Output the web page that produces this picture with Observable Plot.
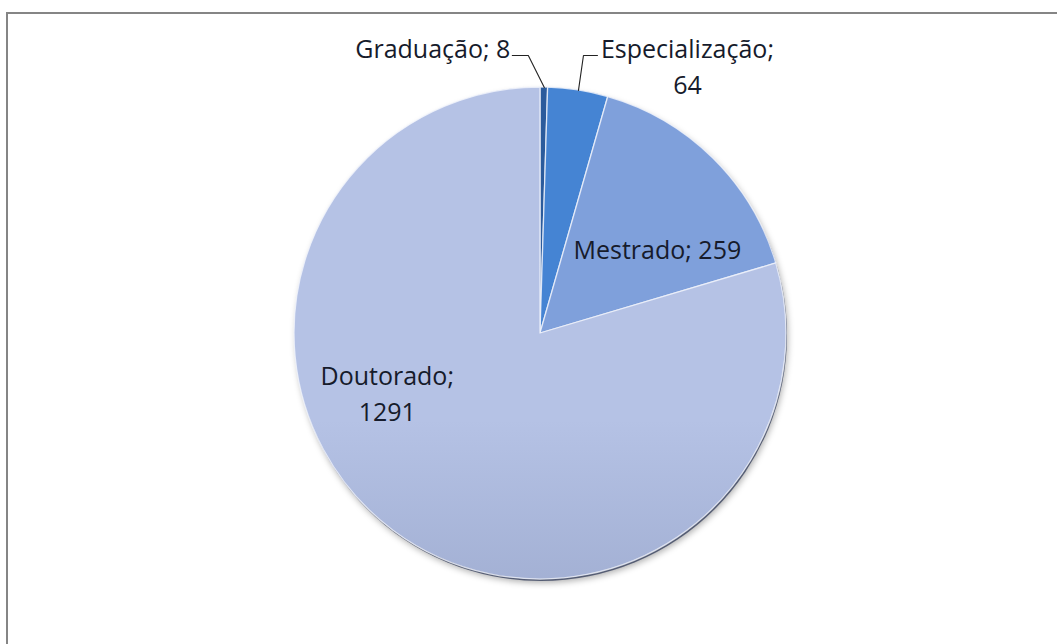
<!DOCTYPE html>
<html><head><meta charset="utf-8">
<script src="https://cdn.jsdelivr.net/npm/d3@7"></script>
<script src="https://cdn.jsdelivr.net/npm/@observablehq/plot@0.6"></script>
<style>
body{margin:0;background:#fff;overflow:hidden}
#chart{position:absolute;left:0;top:0}
#frame{position:absolute;left:6px;top:12px;width:3000px;height:3000px;border-left:2.5px solid #858585;border-top:2.5px solid #858585;pointer-events:none}
</style></head><body>
<div id="chart"></div><div id="frame"></div>
<script>
// ---- data ----
const categories = ["Graduação", "Especialização", "Mestrado", "Doutorado"];
const values = [8, 64, 259, 1291];

// ---- styling ----
const gradients = {
  "Graduação": ["#2b5b9c", "#1b4580"],
  "Especialização": ["#4584d3", "#316ab6"],
  "Mestrado": ["#7fa0db", "#5f7ebb"],
  "Doutorado": ["#b5c2e5", "#7f8db2"]
};
const labelLayout = {
  "Graduação":      {kind: "outside", elbowDx: -16, endDx: -32, textDx: -2, textDy: 2, anchor: "end"},
  "Especialização": {kind: "outside", elbowDx: 5, endDx: 19, textDx: 90, textDy: 38, anchor: "middle", wrap: true},
  "Mestrado":       {kind: "inside", r: 0.6, dx: 13, dy: 19},
  "Doutorado":      {kind: "inside", r: 0.6, dx: -65, dy: -60, wrap: true}
};
const FONT = 25, LINE_H = 36, PX = 1 / 246, ELBOW_Y = 1.13;

const data = categories.map((c, i) => ({category: c, value: values[i]}));
const arcs = d3.pie().sort(null).value(d => d.value)(data);
const polar = (a, r) => ({x: r * Math.sin(a), y: r * Math.cos(a)});

const slices = arcs.map(a => ({category: a.data.category, value: a.data.value,
  start: a.startAngle, end: a.endAngle, mid: (a.startAngle + a.endAngle) / 2}));

const labels = [];
const leaders = [];
for (const s of slices) {
  const L = labelLayout[s.category];
  const txt = s.category + ";" + (L.wrap ? "\n" : " ") + s.value;
  if (L.kind === "inside") {
    const p = polar(s.mid, L.r);
    labels.push({x: p.x, y: p.y, text: txt, dx: L.dx, dy: L.dy, anchor: "middle", lineAnchor: "middle"});
  } else {
    const e = polar(s.mid, 1);
    const elbow = {x: e.x + L.elbowDx * PX, y: ELBOW_Y};
    const end = {x: e.x + L.endDx * PX, y: ELBOW_Y};
    leaders.push({k: s.category, ...e}, {k: s.category, ...elbow}, {k: s.category, ...end});
    labels.push({x: end.x, y: end.y, text: txt, dx: L.textDx, dy: L.textDy, anchor: L.anchor, lineAnchor: "bottom"});
  }
}

function pieRender(index, scales, values, dimensions, context) {
  const cx = scales.x(0), cy = scales.y(0);
  const r = scales.x(1) - scales.x(0);
  const g = d3.create("svg:g");
  const defs = g.append("defs");
  defs.append("filter").attr("id", "pblur").attr("x", "-20%").attr("y", "-20%").attr("width", "140%").attr("height", "140%")
    .append("feGaussianBlur").attr("stdDeviation", 3);
  categories.forEach((c, i) => {
    const lg = defs.append("linearGradient").attr("id", "grad" + i)
      .attr("gradientUnits", "userSpaceOnUse")
      .attr("x1", 0).attr("x2", 0).attr("y1", cy - r).attr("y2", cy + r);
    lg.append("stop").attr("offset", 0).attr("stop-color", gradients[c][0]);
    lg.append("stop").attr("offset", 1).attr("stop-color", gradients[c][1]);
  });
  // shadow
  g.append("circle").attr("cx", cx + 2).attr("cy", cy + 4).attr("r", r)
    .attr("fill", "#000").attr("fill-opacity", 0.3).attr("filter", "url(#pblur)");
  g.append("circle").attr("cx", cx + 1).attr("cy", cy + 2).attr("r", r)
    .attr("fill", "#3a4460").attr("fill-opacity", 0.8);
  const arc = d3.arc().innerRadius(0).outerRadius(r);
  const pg = g.append("g").attr("transform", `translate(${cx},${cy})`);
  for (const i of index) {
    const s = slices[i];
    pg.append("path")
      .attr("d", arc({startAngle: s.start, endAngle: s.end}))
      .attr("fill", `url(#grad${categories.indexOf(s.category)})`)
      .attr("stroke", "#f2f5fc").attr("stroke-opacity", 0.8).attr("stroke-width", 1.3)
      .attr("stroke-linejoin", "round");
  }
  return g.node();
}

const textMarks = labels.map(l => Plot.text([l], {
  x: "x", y: "y", text: "text", dx: l.dx, dy: l.dy,
  textAnchor: l.anchor, lineAnchor: l.lineAnchor,
  fontSize: FONT, lineHeight: LINE_H / FONT, fill: "#161b2b"
}));

const chart = Plot.plot({
  width: 1057,
  height: 644,
  marginLeft: 294,
  marginRight: 271,
  marginTop: 87,
  marginBottom: 65,
  x: {domain: [-1, 1], axis: null},
  y: {domain: [-1, 1], axis: null},
  style: {fontFamily: "'Open Sans', Lato, sans-serif", background: "transparent", overflow: "visible"},
  marks: [
    Plot.dot(slices, {x: () => 0, y: () => 0, render: pieRender}),
    Plot.line(leaders, {x: "x", y: "y", z: "k", stroke: "#222", strokeWidth: 1.1}),
    ...textMarks
  ]
});
document.getElementById("chart").appendChild(chart);
</script>
</body></html>
